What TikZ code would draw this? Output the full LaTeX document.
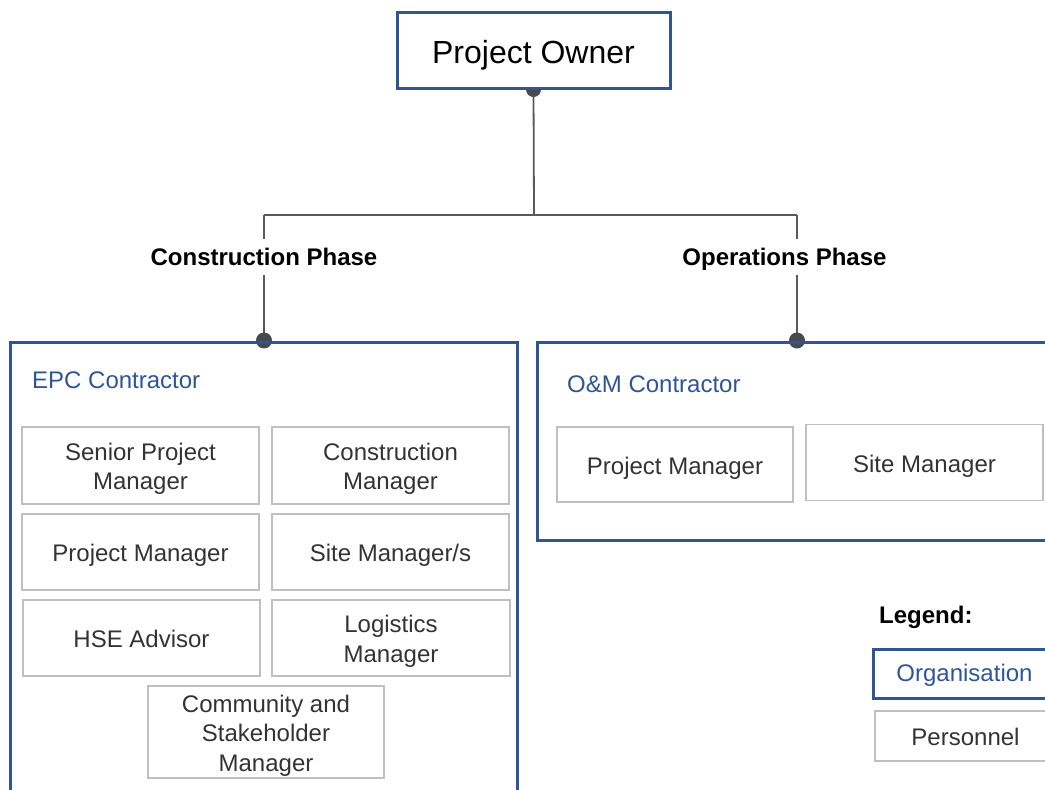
\documentclass[tikz,border=0pt]{standalone}
\usepackage{fontspec}
\setmainfont{Liberation Sans}
\pgfdeclarelayer{bg}
\pgfsetlayers{bg,main}
\definecolor{orgblue}{HTML}{2F5597}
\definecolor{linegray}{HTML}{5A5A5A}
\definecolor{dotgray}{HTML}{464B52}
\definecolor{persgray}{HTML}{BFBFBF}
\definecolor{txtgray}{HTML}{333333}
\newcommand\myhs{\rule{0pt}{25pt}}
\newcommand\myds{\rule[-6pt]{0pt}{6pt}}
\tikzset{
  orgbox/.style={draw=orgblue, line width=3pt, rectangle, inner sep=0pt},
  persbox/.style={draw=persgray, line width=1.4pt, rectangle, fill=white, inner sep=0pt,
    text=txtgray, align=center, font=\fontsize{24}{29.5}\selectfont},
  phaselabel/.style={fill=white, inner xsep=0pt, inner ysep=0pt, minimum height=36pt,
    text height=21pt, text depth=5pt,
    font=\fontsize{24}{29}\selectfont\bfseries},
  conn/.style={draw=linegray, line width=1.8pt},
  cdot/.style={fill=dotgray},
  orglabel/.style={text=orgblue, font=\fontsize{24}{29}\selectfont, inner sep=0pt}
}
\begin{document}
\begin{tikzpicture}[x=1pt,y=-1pt]
\clip (0,0) rectangle (1045,790);
% Project owner
\node[orgbox, fill=white, minimum width=273pt, minimum height=76pt,
  text height=33pt, text depth=7pt,
  font=\fontsize{32}{38}\selectfont, text=black] (owner) at (533.5,50) {Project Owner};
% Organisation boxes
\node[orgbox, minimum width=507pt, minimum height=470pt] (epc) at (263.5,577) {};
\node[orgbox, minimum width=523pt, minimum height=198pt] (om) at (798.5,441) {};
\node[orglabel, anchor=base west] (epcl) at (32,388) {EPC Contractor};
\node[orglabel, anchor=base west] (oml) at (567,392) {O\&M Contractor};
% Personnel EPC
\node[persbox, minimum width=237pt, minimum height=77pt] (spm) at (140.5,465.5) {\myhs Senior Project\\Manager\myds};
\node[persbox, minimum width=237pt, minimum height=77pt] (cm) at (390.5,465.5) {\myhs Construction\\Manager\myds};
\node[persbox, minimum width=237pt, minimum height=76pt] (pm) at (140.5,552) {\myhs Project Manager\myds};
\node[persbox, minimum width=237pt, minimum height=76pt] (sm) at (390.5,552) {\myhs Site Manager/s\myds};
\node[persbox, minimum width=237pt, minimum height=76pt] (hse) at (141.5,638) {\myhs HSE Advisor\myds};
\node[persbox, minimum width=238pt, minimum height=76pt] (lm) at (391,638) {\myhs Logistics\\Manager\myds};
\node[persbox, minimum width=236pt, minimum height=92pt] (csm) at (266,732) {\myhs Community and\\Stakeholder\\Manager\myds};
% Personnel O&M
\node[persbox, minimum width=236pt, minimum height=75pt] (pm2) at (675,464.5) {\myhs Project Manager\myds};
\node[persbox, minimum width=237pt, minimum height=76pt] (sm2) at (924.5,462.5) {\myhs Site Manager\myds};
% Phase labels
\coordinate (jc) at (264,215);
\coordinate (jo) at (797,215);
\coordinate (jm) at (534,215);
\node[phaselabel] (cph) at (264,257) {Construction Phase};
\node[phaselabel] (oph) at (784.5,257) {Operations Phase};
% Connectors
\begin{pgfonlayer}{bg}
\fill[white] (0,0) rectangle (1045,790);
\draw[conn] (owner.south) -- (jm);
\draw[conn] (jc) -- (jo);
\draw[conn] (jc) -- (jc |- epc.north);
\draw[conn] (jo) -- (jo |- om.north);
\fill[cdot] (owner.south) circle (7.5pt);
\fill[cdot] (jc |- epc.north) circle (8pt);
\fill[cdot] (jo |- om.north) circle (8pt);
\end{pgfonlayer}
% Legend
\node[font=\fontsize{24}{29}\selectfont\bfseries, anchor=base west, inner sep=0pt] (leg) at (879,623) {Legend:};
\node[orgbox, minimum width=183pt, minimum height=49pt, text=orgblue,
  text height=22pt, text depth=6pt,
  font=\fontsize{24}{29}\selectfont] (lorg) at (964.5,673.5) {Organisation};
\node[persbox, minimum width=181pt, minimum height=50pt] (lpers) at (965.5,736) {\myhs Personnel\myds};
\end{tikzpicture}
\end{document}
